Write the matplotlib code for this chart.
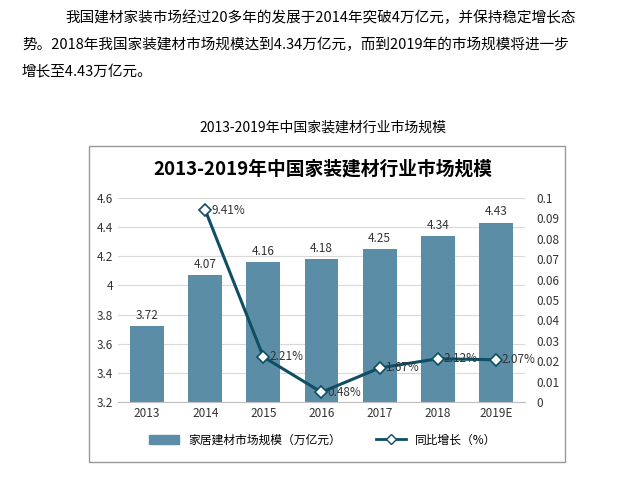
import matplotlib
matplotlib.use("Agg")
import matplotlib.pyplot as plt
from matplotlib import font_manager
from matplotlib.patches import Rectangle
from matplotlib.lines import Line2D

names = {f.name for f in font_manager.fontManager.ttflist}
cands = [n for n in ['Noto Sans CJK SC', 'Noto Sans CJK JP', 'Noto Sans CJK TC', 'Noto Sans CJK KR',
                     'Noto Sans SC', 'Noto Sans CJK'] if n in names]
if not cands:
    cands = [n for n in sorted(names) if 'CJK' in n]
plt.rcParams['font.family'] = cands + ['DejaVu Sans']

years = ['2013', '2014', '2015', '2016', '2017', '2018', '2019E']
scale = [3.72, 4.07, 4.16, 4.18, 4.25, 4.34, 4.43]
growth_years = ['2014', '2015', '2016', '2017', '2018', '2019E']
growth = [0.0941, 0.0221, 0.0048, 0.0167, 0.0212, 0.0207]
growth_labels = ['9.41%', '2.21%', '0.48%', '1.67%', '2.12%', '2.07%']

W, H = 638, 479
fig = plt.figure(figsize=(W/100, H/100), dpi=100)

def fx(x): return x / W
def fy(y): return 1 - y / H

para = ["我国建材家装市场经过20多年的发展于2014年突破4万亿元，并保持稳定增长态",
        "势。2018年我国家装建材市场规模达到4.34万亿元，而到2019年的市场规模将进一步",
        "增长至4.43万亿元。"]
fig.text(fx(65), fy(18), para[0], fontsize=10.5, va='center', ha='left')
fig.text(fx(22), fy(45), para[1], fontsize=10.5, va='center', ha='left')
fig.text(fx(22), fy(72), para[2], fontsize=10.5, va='center', ha='left')
fig.text(fx(323), fy(128), "2013-2019年中国家装建材行业市场规模", fontsize=10, va='center', ha='center')

fig.patches.append(Rectangle((fx(89), fy(462)), fx(565)-fx(89), fy(146)-fy(462),
                             transform=fig.transFigure, fill=False, ec='#999999', lw=1))
fig.text(fx(323), fy(169), "2013-2019年中国家装建材行业市场规模", fontsize=13.5,
         fontweight='bold', va='center', ha='center')

ax = fig.add_axes([fx(118), fy(402), fx(525)-fx(118), fy(198)-fy(402)])
x = list(range(len(years)))
bar_color = '#5b8ea6'
line_color = '#0f4e63'
ax.bar(x, [v - 3.2 for v in scale], bottom=3.2, width=0.58, color=bar_color, zorder=2)
for xi, v in zip(x, scale):
    ax.text(xi, v + 0.03, f'{v:.2f}', ha='center', va='bottom', fontsize=8.5, color='#333333')
ax.set_ylim(3.2, 4.6)
ax.set_xlim(-0.5, len(years) - 0.5)
ax.set_yticks([3.2, 3.4, 3.6, 3.8, 4.0, 4.2, 4.4, 4.6])
ax.set_yticklabels(['3.2', '3.4', '3.6', '3.8', '4', '4.2', '4.4', '4.6'])
ax.set_xticks(x)
ax.set_xticklabels(years)
ax.tick_params(labelsize=8.5, length=0, colors='#333333')
ax.grid(axis='y', color='#d9d9d9', lw=0.8, zorder=0)
for s in ['top', 'left', 'right']:
    ax.spines[s].set_visible(False)
ax.spines['bottom'].set_color('#bfbfbf')

ax2 = ax.twinx()
gx = [years.index(y) for y in growth_years]
ax2.plot(gx, growth, color=line_color, lw=2.2, marker='D', ms=6,
         mfc='white', mec=line_color, mew=1.2, zorder=3)
for xi, g, lab in zip(gx, growth, growth_labels):
    ax2.text(xi + 0.1, g, lab, ha='left', va='center', fontsize=8.5, color='#333333')
ax2.set_ylim(0, 0.1)
ax2.set_yticks([i / 100 for i in range(11)])
ax2.set_yticklabels(['0'] + [f'{i/100:g}' for i in range(1, 11)])
ax2.tick_params(labelsize=8.5, length=0, colors='#333333', pad=8)
for s in ['top', 'left', 'right', 'bottom']:
    ax2.spines[s].set_visible(False)

handles = [Rectangle((0, 0), 1, 1, color=bar_color),
           Line2D([0], [0], color=line_color, lw=2, marker='D', ms=5, mfc='white', mec=line_color)]
fig.legend(handles, ['家居建材市场规模（万亿元）', '同比增长（%）'], loc='center',
           bbox_to_anchor=(fx(323), fy(440)), ncol=2, frameon=False, fontsize=8.5,
           columnspacing=3, handlelength=2.5)

fig.savefig('out.png', dpi=100)
